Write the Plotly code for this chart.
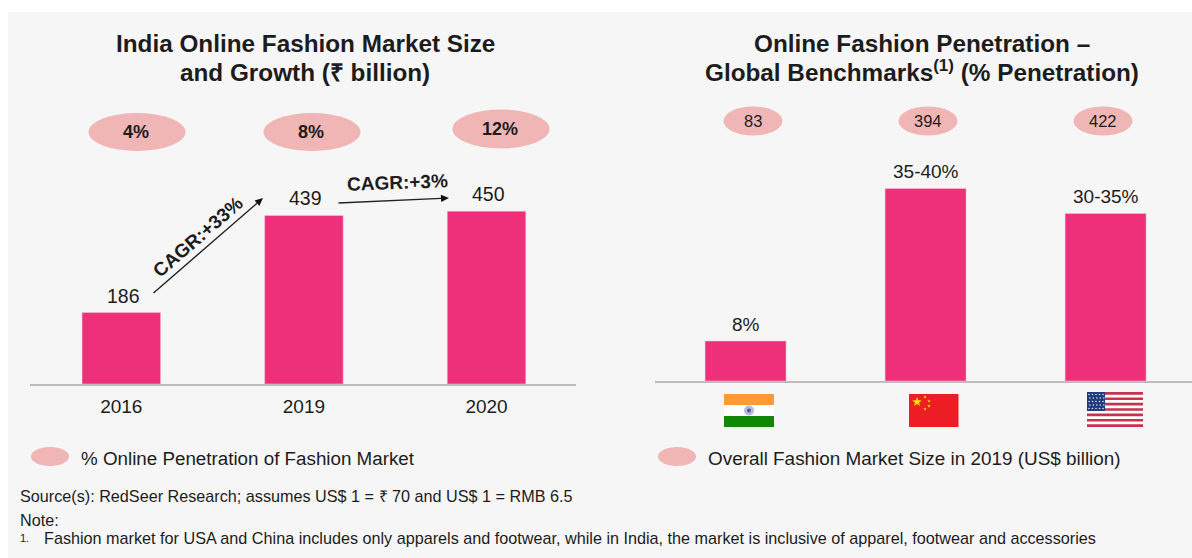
import math
import plotly.graph_objects as go

W, H = 1192, 558
FONT = "Liberation Sans"

years = ["2016", "2019", "2020"]
market_size = [186, 439, 450]
market_labels = ["186", "439", "450"]
online_penetration = ["4%", "8%", "12%"]

countries = ["India", "China", "USA"]
penetration_mid = [8, 38.5, 33.5]
penetration_labels = ["8%", "35-40%", "30-35%"]
overall_market = ["83", "394", "422"]

title_left = ["India Online Fashion Market Size", "and Growth (₹ billion)"]
title_right = ["Online Fashion Penetration –", "Global Benchmarks<sup>(1)</sup> (% Penetration)"]
legend_left = "% Online Penetration of Fashion Market"
legend_right = "Overall Fashion Market Size in 2019 (US$ billion)"
source_text = "Source(s): RedSeer Research; assumes US$ 1 = ₹ 70 and US$ 1 = RMB 6.5"
note_text = "Note:"
foot_text = ("Fashion market for USA and China includes only apparels and footwear, "
             "while in India, the market is inclusive of apparel, footwear and accessories")

PINK = "#ee2f7a"
BLUSH = "#f0b6b6"
INK = "#1c1c1c"


def px(x):
    return x / W


def py(y):
    return 1 - y / H


shapes = []
annotations = []


def add_shape(kind, x0, y0, x1, y1, color, line=None):
    shapes.append(dict(type=kind, xref="paper", yref="paper", x0=px(x0), x1=px(x1),
                       y0=py(y0), y1=py(y1), fillcolor=color,
                       line=dict(width=0) if line is None else line, layer="above"))


def add_text(x, y, text, size, anchor="center", bold=False, angle=0, color=INK):
    if anchor == "left":
        x -= 2
    annotations.append(dict(xref="paper", yref="paper", x=px(x), y=py(y), text=f"<b>{text}</b>" if bold else text,
                            showarrow=False, xanchor=anchor, yanchor="middle", textangle=angle,
                            font=dict(family=FONT, size=size, color=color), align="center"))


def add_path(points, color):
    path = "M " + " L ".join(f"{px(a):.5f},{py(b):.5f}" for a, b in points) + " Z"
    shapes.append(dict(type="path", xref="paper", yref="paper", path=path, fillcolor=color,
                       line=dict(width=0), layer="above"))


def add_arrow(x0, y0, x1, y1):
    a = math.atan2(y1 - y0, x1 - x0)
    head, half = 8.0, 3.6
    bx, by = x1 - head * math.cos(a), y1 - head * math.sin(a)
    nx, ny = -math.sin(a), math.cos(a)
    shapes.append(dict(type="line", xref="paper", yref="paper", x0=px(x0), y0=py(y0), x1=px(bx), y1=py(by),
                       line=dict(color="#222222", width=1.4), layer="above"))
    add_path([(x1, y1), (bx + half * nx, by + half * ny), (bx - half * nx, by - half * ny)], "#111111")


def add_star(cx, cy, r, color):
    pts = []
    for i in range(10):
        rad = r if i % 2 == 0 else r * 0.42
        a = -math.pi / 2 + i * math.pi / 5
        pts.append((cx + rad * math.cos(a), cy + rad * math.sin(a)))
    add_path(pts, color)


# panel background
shapes.append(dict(type="rect", xref="paper", yref="paper", x0=px(8), x1=1, y0=0, y1=py(12),
                   fillcolor="#f6f6f6", line=dict(width=0), layer="below"))

fig = go.Figure()
fig.add_trace(go.Bar(x=years, y=market_size, width=0.43,
                     marker=dict(color=PINK, line=dict(color="#f9c8dc", width=0.5)), xaxis="x", yaxis="y"))
fig.add_trace(go.Bar(x=countries, y=penetration_mid, width=0.45,
                     marker=dict(color=PINK, line=dict(color="#f9c8dc", width=0.5)), xaxis="x2", yaxis="y2"))

# value labels (category axes are addressed by position here: numeric-looking
# year strings would otherwise be read as positions themselves)
for i, (val, label) in enumerate(zip(market_size, market_labels)):
    annotations.append(dict(xref="x", yref="y", x=i, y=val, text=label, showarrow=False, yanchor="middle",
                            xshift=2, yshift=17, font=dict(family=FONT, size=19.5, color=INK)))
for i, (val, label) in enumerate(zip(penetration_mid, penetration_labels)):
    annotations.append(dict(xref="x2", yref="y2", x=i, y=val, text=label, showarrow=False, yanchor="middle",
                            yshift=17, font=dict(family=FONT, size=19, color=INK)))

# bubbles
for (cx, cy, w, h), label in zip([(137, 132, 97, 38), (312, 132, 97, 38), (501, 129, 97, 39)], online_penetration):
    add_shape("circle", cx - w / 2, cy - h / 2, cx + w / 2, cy + h / 2, BLUSH)
    add_text(cx - 1, cy, label, 18, bold=True)
for (cx, cy), label in zip([(753, 121), (928, 121), (1103, 121)], overall_market):
    add_shape("circle", cx - 29.5, cy - 14.5, cx + 29.5, cy + 14.5, BLUSH)
    add_text(cx, cy, label, 16.5)

# legends
add_shape("circle", 31, 447, 69, 466, BLUSH)
add_text(81, 458, legend_left, 18.8, anchor="left")
add_shape("circle", 658, 447, 696, 466, BLUSH)
add_text(708, 458, legend_right, 18.9, anchor="left")

# titles
add_text(305, 43, title_left[0], 24.3, bold=True)
add_text(305, 72, title_left[1], 24.3, bold=True)
add_text(922, 43, title_right[0], 24.3, bold=True)
add_text(922, 71, title_right[1], 24.3, bold=True)

# CAGR
add_arrow(153.5, 293, 263, 198)
add_arrow(338.5, 203, 449, 198)
add_text(197, 237, "CAGR:+33%", 19, bold=True, angle=-41)
add_text(397, 182, "CAGR:+3%", 19, bold=True, angle=-2)

# footnotes
add_text(20, 496, source_text, 16.2, anchor="left")
add_text(20, 520, note_text, 16.2, anchor="left")
add_text(20, 538, "1.", 11, anchor="left")
add_text(44, 538, foot_text, 16.2, anchor="left")

# India flag
add_shape("rect", 724, 394, 774, 405, "#ff9933")
add_shape("rect", 724, 405, 774, 416, "#ffffff")
add_shape("rect", 724, 416, 774, 427, "#138808")
add_shape("circle", 744, 405.5, 754, 415.5, "#b9b9dd")
add_shape("circle", 747, 408.5, 751, 412.5, "#55559a")

# China flag
add_shape("rect", 909, 394, 958.5, 427, "#ee1c25")
add_star(917, 402, 5, "#ffe000")
for sx, sy in [(925, 397), (929, 401), (929, 406), (925, 409)]:
    add_star(sx, sy, 1.8, "#ffe000")

# USA flag
flag_top, flag_bottom = 392.0, 427.0
add_shape("rect", 1087, flag_top, 1143, flag_bottom, "#ffffff")
stripe = (flag_bottom - flag_top) / 13
for i in range(0, 13, 2):
    add_shape("rect", 1087, flag_top + i * stripe, 1143, flag_top + (i + 1) * stripe, "#c8324f")
add_shape("rect", 1087, flag_top, 1105, 411, "#1f3a7d")
for row in range(5):
    for col in range(5):
        cx = 1089 + col * 3.5 + (1.7 if row % 2 else 0) * 0.5
        cy = 394.5 + row * 3.5
        add_shape("circle", cx - 0.8, cy - 0.8, cx + 0.8, cy + 0.8, "#dfe4f2")

axis_common = dict(type="category", showgrid=False, zeroline=False, showline=True, linecolor="#bdbdbd",
                   linewidth=1.5, ticks="outside", ticklen=4, tickcolor="rgba(0,0,0,0)", fixedrange=True)
fig.update_layout(
    width=W, height=H, autosize=False, margin=dict(l=0, r=0, t=0, b=0), showlegend=False,
    paper_bgcolor="#ffffff", plot_bgcolor="rgba(0,0,0,0)", font=dict(family=FONT, color=INK),
    xaxis=dict(domain=[px(30), px(576)], range=[-0.5, 2.49], anchor="y",
               tickfont=dict(family=FONT, size=19, color=INK), **axis_common),
    yaxis=dict(domain=[py(384), 1], range=[0, 1000], visible=False, fixedrange=True),
    xaxis2=dict(domain=[px(655), 1], range=[-0.503, 2.48], anchor="y2", showticklabels=False, **axis_common),
    yaxis2=dict(domain=[py(381), 1], range=[0, 76.2], visible=False, fixedrange=True),
    shapes=shapes, annotations=annotations,
)
fig.write_html("out.html", post_script="document.body.style.margin='0';", config=dict(displayModeBar=False))
